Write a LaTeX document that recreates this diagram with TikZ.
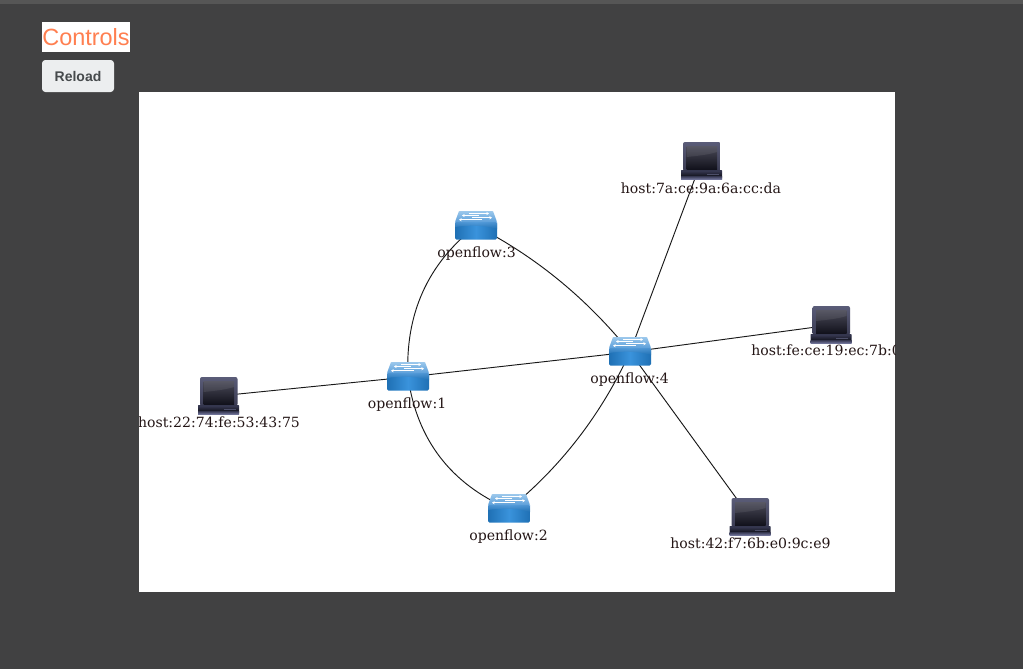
\documentclass[tikz,border=0pt]{standalone}
\usepackage{fontspec}
\setmainfont{DejaVu Serif}
\newfontfamily\uifont{Liberation Sans}
\usetikzlibrary{arrows.meta}
\definecolor{pagebg}{HTML}{414142}
\definecolor{topbar}{HTML}{565656}
\definecolor{coral}{HTML}{FF7F50}
\definecolor{btn}{HTML}{ECEEEF}
\definecolor{btntext}{HTML}{464A4C}
\definecolor{labeltext}{HTML}{241616}
\definecolor{swtopa}{HTML}{9CC8EC}
\definecolor{swtopb}{HTML}{5C9FDA}
\definecolor{swedge}{HTML}{1F70B4}
\definecolor{swmid}{HTML}{3A93DC}
\definecolor{lpframea}{HTML}{5A5C78}
\definecolor{lpframeb}{HTML}{3A3B52}
\definecolor{lpscra}{HTML}{4A4A58}
\definecolor{lpscrb}{HTML}{12121C}
\definecolor{lpbase}{HTML}{34364E}
\definecolor{lpdark}{HTML}{14141F}
\definecolor{lplight}{HTML}{6E7196}
\tikzset{
  x=0.75pt,y=-0.75pt,
  anchorpt/.style={inner sep=0pt,minimum size=0pt,outer sep=0pt},
  link/.style={draw=black!90,line width=0.7pt},
  devlabel/.style={font=\fontsize{10.55pt}{12pt}\selectfont,text=labeltext,inner sep=0pt,anchor=base},
  swarrow/.style={white,line width=0.45pt,-{Stealth[length=2pt,width=2.4pt]}},
  switchicon/.pic={
    \path[top color=swtopa,bottom color=swtopb,rounded corners=0.5pt]
      (-17,-15) -- (17,-15) -- (21,-4) -- (-21,-4) -- cycle;
    \path[left color=swedge,right color=swedge,middle color=swmid,rounded corners=1pt]
      (-21,-4) rectangle (21,13.5);
    \path[top color=swtopb,bottom color=swedge,opacity=.75]
      (-21,-4) -- (21,-4) -- (21,3) .. controls (8,-1) and (-8,-1) .. (-21,1) -- cycle;
    \draw[swarrow] (-7,-12.5) -- (13,-12.5);
    \draw[swarrow] (3,-10.5) -- (-14,-10.5);
    \draw[swarrow] (-4,-8.3) -- (16,-8.3);
    \draw[swarrow] (6,-6.3) -- (-17,-6.3);
  },
  laptopicon/.pic={
    \path[top color=lpframea,bottom color=lpframeb,rounded corners=1.5pt]
      (-18.5,-19) rectangle (19,10);
    \path[top color=lpscra,bottom color=lpscrb] (-15,-15) rectangle (15.5,8);
    \fill[white,opacity=.08] (-15,-15) -- (15.5,-15) -- (15.5,-9) .. controls (6,-6) and (-6,-5) .. (-15,-4) -- cycle;
    \path[fill=lpbase,rounded corners=0.5pt] (-20.5,9) rectangle (20.5,18);
    \path[top color=lpbase,bottom color=lpdark] (-20,10) rectangle (20,15);
    \fill[lplight!70!black] (5,12.5) rectangle (17,13.5);
    \path[top color=lpbase,bottom color=lplight] (-20.5,15) rectangle (20.5,18);
  }
}
\begin{document}
\begin{tikzpicture}
\useasboundingbox (0,0) rectangle (1023,669);
\fill[pagebg] (0,0) rectangle (1023,669);
\fill[topbar] (0,0) rectangle (1023,4);
% controls
\node[fill=white,inner sep=0pt,minimum width=66pt,minimum height=22.5pt,text=coral,font=\uifont\fontsize{17.6pt}{20pt}\selectfont] (title) at (86,37) {Controls};
\node[fill=btn,rounded corners=2.5pt,inner sep=0pt,minimum width=54pt,minimum height=24pt,text=btntext,font=\uifont\bfseries\fontsize{10.5pt}{12pt}\selectfont] (reload) at (78,76) {Reload};
% canvas
\fill[white] (139,92) rectangle (895,592);
\begin{scope}
\clip (139,92) rectangle (895,592);
\node[anchorpt] (s1) at (408,377) {};
\node[anchorpt] (s2) at (509,509) {};
\node[anchorpt] (s3) at (476,226) {};
\node[anchorpt] (s4) at (630,352) {};
\node[anchorpt] (h1) at (701.5,161) {};
\node[anchorpt] (h2) at (831,325) {};
\node[anchorpt] (h3) at (750,517) {};
\node[anchorpt] (h4) at (218.5,396) {};
\draw[link] (h4.center) -- (s1.center);
\draw[link] (s1.center) -- (s4.center);
\draw[link] (s4.center) -- (h2.center);
\draw[link] (s4.center) -- (h1.center);
\draw[link] (s4.center) -- (h3.center);
\draw[link] (s1.center) .. controls (405,315) and (427,264) .. (s3.center);
\draw[link] (s3.center) .. controls (537,257) and (588,300) .. (s4.center);
\draw[link] (s1.center) .. controls (417,440) and (451,484) .. (s2.center);
\draw[link] (s2.center) .. controls (562,466) and (602,413) .. (s4.center);
\pic at (s1) {switchicon};
\pic at (s2) {switchicon};
\pic at (s3) {switchicon};
\pic at (s4) {switchicon};
\pic at (h1) {laptopicon};
\pic at (h2) {laptopicon};
\pic at (h3) {laptopicon};
\pic at (h4) {laptopicon};
\node[devlabel] (l1) at (407,408) {openflow:1};
\node[devlabel] (l2) at (508.5,540) {openflow:2};
\node[devlabel] (l3) at (476.5,257) {openflow:3};
\node[devlabel] (l4) at (629.5,383) {openflow:4};
\node[devlabel] (l5) at (701,193) {host:7a:ce:9a:6a:cc:da};
\node[devlabel,anchor=base west] (l6) at (751,355) {host:fe:ce:19:ec:7b:0f};
\node[devlabel] (l7) at (750.5,548) {host:42:f7:6b:e0:9c:e9};
\node[devlabel] (l8) at (219,427) {host:22:74:fe:53:43:75};
\end{scope}
\end{tikzpicture}
\end{document}
